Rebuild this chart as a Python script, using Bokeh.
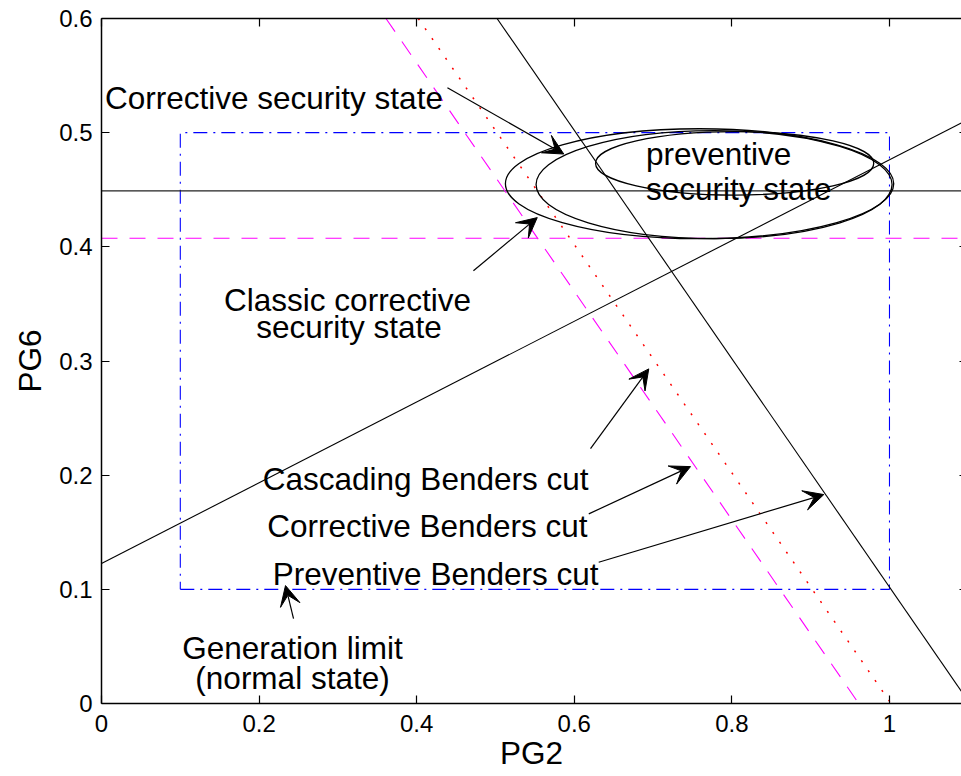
from bokeh.plotting import figure
from bokeh.models import Range1d, LinearAxis, FixedTicker, Arrow, VeeHead, ColumnDataSource
from bokeh.embed import file_html
from bokeh.resources import INLINE
from bokeh.core.properties import value

FONT = "Liberation Sans"

# ---- axes ----
x_ticks = [0, 0.2, 0.4, 0.6, 0.8, 1]
x_tick_labels = ["0", "0.2", "0.4", "0.6", "0.8", "1"]
y_ticks = [0, 0.1, 0.2, 0.3, 0.4, 0.5, 0.6]
y_tick_labels = ["0", "0.1", "0.2", "0.3", "0.4", "0.5", "0.6"]
x_label = "PG2"
y_label = "PG6"

# ---- generation limit (normal state) box ----
gen_x = [0.1, 1.0, 1.0, 0.1, 0.1]
gen_y = [0.1, 0.1, 0.5, 0.5, 0.1]

# ---- Benders cuts ----
preventive_cut_x = [0.502, 1.102]
preventive_cut_y = [0.6, 0.0]
corrective_cut_x = [0.361, 0.961]
corrective_cut_y = [0.6, 0.0]
cascading_cut_x = [0.402, 1.002]
cascading_cut_y = [0.6, 0.0]

# other constraint lines
rising_x = [0.0, 1.1]
rising_y = [0.1226, 0.5116]
hline_x = [0.0, 1.1]
hline_black_y = [0.449, 0.449]
hline_magenta_y = [0.4075, 0.4075]

# ---- security-state ellipses (classic corrective, corrective, preventive) ----
ell_x = [0.759, 0.7774, 0.8035]
ell_y = [0.4553, 0.4545, 0.4731]
ell_w = [0.4928, 0.4518, 0.353]
ell_h = [0.0963, 0.0946, 0.0555]

# ---- annotation arrows ----
arrow_x0 = [0.439, 0.472, 0.6206, 0.6184, 0.631, 0.2437]
arrow_y0 = [0.5394, 0.379, 0.2233, 0.1661, 0.1237, 0.0744]
arrow_x1 = [0.5867, 0.553, 0.6945, 0.7475, 0.9167, 0.2335]
arrow_y1 = [0.4813, 0.4256, 0.2931, 0.2075, 0.183, 0.1033]

# ---- annotation texts ----
left_text = ["Corrective security state", "preventive", "security state"]
left_x = [0.0045, 0.691, 0.691]
left_y = [0.5307, 0.4816, 0.4507]

center_text = ["Classic corrective", "security state", "Generation limit", "(normal state)"]
center_x = [0.3122, 0.3141, 0.2424, 0.2424]
center_y = [0.3538, 0.3301, 0.0482, 0.0219]

right_text = ["Cascading Benders cut", "Corrective Benders cut", "Preventive Benders cut"]
right_x = [0.618, 0.6168, 0.6307]
right_y = [0.197, 0.1559, 0.1138]

TXT = "31.5px"
TICK = "24px"

p = figure(width=961, height=776,
           x_range=Range1d(0, 1.0914), y_range=Range1d(0, 0.6),
           output_backend="svg", toolbar_location=None,
           min_border_left=101, min_border_right=0, min_border_top=18, min_border_bottom=73)
p.outline_line_color = None
p.xgrid.grid_line_color = None
p.ygrid.grid_line_color = None
p.background_fill_color = "white"
p.border_fill_color = "white"


def style_axis(ax, ticks, labels, show_labels=True):
    ax.ticker = FixedTicker(ticks=ticks)
    ax.major_tick_in = 8
    ax.major_tick_out = 0
    ax.minor_tick_line_color = None
    ax.axis_line_width = 1.5
    ax.major_tick_line_width = 1.2
    ax.axis_line_color = "black"
    ax.major_tick_line_color = "black"
    if show_labels:
        ax.major_label_overrides = dict(zip(ticks, labels))
        ax.major_label_text_font = FONT
        ax.major_label_text_font_size = TICK
        ax.major_label_text_color = "black"
    else:
        ax.major_label_text_font_size = "0px"
        ax.major_label_text_color = None
        ax.major_label_standoff = 0


style_axis(p.xaxis[0], x_ticks, x_tick_labels)
p.xaxis[0].major_label_standoff = 11
p.xaxis[0].axis_label = x_label
p.xaxis[0].axis_label_text_font = FONT
p.xaxis[0].axis_label_text_font_size = TXT
p.xaxis[0].axis_label_text_font_style = "normal"
p.xaxis[0].axis_label_text_color = "black"
p.xaxis[0].axis_label_standoff = 0

style_axis(p.yaxis[0], y_ticks, y_tick_labels)
p.yaxis[0].major_label_standoff = 9
p.yaxis[0].axis_label = y_label
p.yaxis[0].axis_label_text_font = FONT
p.yaxis[0].axis_label_text_font_size = TXT
p.yaxis[0].axis_label_text_font_style = "normal"
p.yaxis[0].axis_label_text_color = "black"
p.yaxis[0].axis_label_standoff = 8

top_axis = LinearAxis()
style_axis(top_axis, x_ticks, x_tick_labels, show_labels=False)
p.add_layout(top_axis, "above")
right_axis = LinearAxis()
style_axis(right_axis, y_ticks, y_tick_labels, show_labels=False)
right_axis.axis_line_color = None
right_axis.major_tick_in = 2
p.add_layout(right_axis, "right")

# lines
p.line(gen_x, gen_y, line_color="#0000ff", line_width=1.1, line_dash="14 6 2 6")
p.line(hline_x, hline_magenta_y, line_color="#ff00ff", line_width=1.1, line_dash="16 12")
p.line(hline_x, hline_black_y, line_color="#222222", line_width=1.3)
p.line(rising_x, rising_y, line_color="black", line_width=1.1)
p.line(preventive_cut_x, preventive_cut_y, line_color="black", line_width=1.1)
p.line(corrective_cut_x, corrective_cut_y, line_color="#ff00ff", line_width=1.1, line_dash="16 12")
p.line(cascading_cut_x, cascading_cut_y, line_color="#ff0000", line_width=1.5, line_dash="2 10")

# ellipses
p.ellipse(x=ell_x, y=ell_y, width=ell_w, height=ell_h,
          width_units="data", height_units="data",
          fill_color=None, line_color="black", line_width=1.3)

# arrows
asrc = ColumnDataSource(dict(x0=arrow_x0, y0=arrow_y0, x1=arrow_x1, y1=arrow_y1))
p.add_layout(Arrow(x_start="x0", y_start="y0", x_end="x1", y_end="y1", source=asrc,
                   line_color="black", line_width=1.2,
                   end=VeeHead(size=20, fill_color="black", line_color="black", line_width=1)))

# texts
for txt, xs, ys, al in ((left_text, left_x, left_y, "left"),
                        (center_text, center_x, center_y, "center"),
                        (right_text, right_x, right_y, "right")):
    p.text(x=xs, y=ys, text=txt, text_font=value(FONT), text_font_size=value(TXT),
           text_color="black", text_align=al, text_baseline="alphabetic")

open("out.html", "w").write(file_html(p, INLINE))
